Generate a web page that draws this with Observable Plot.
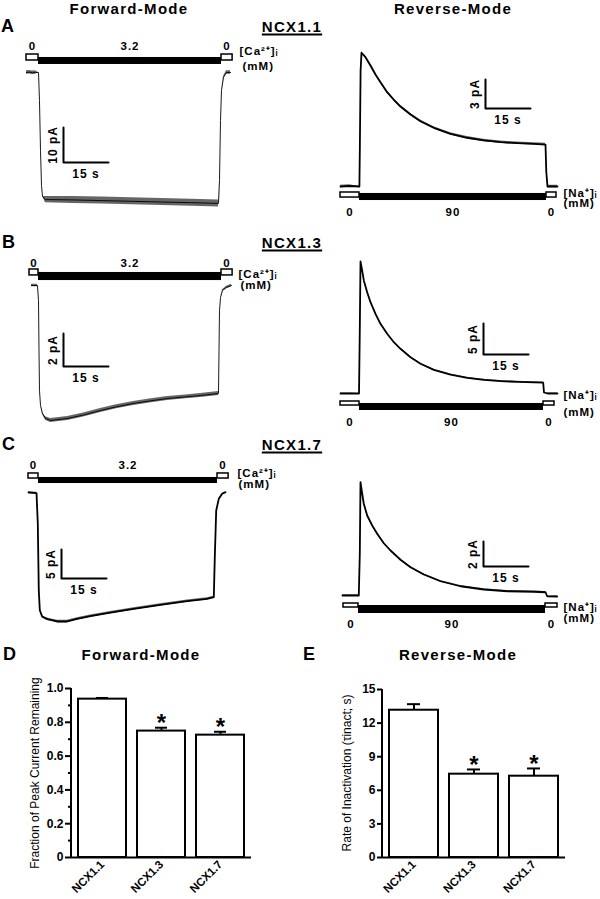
<!DOCTYPE html>
<html><head><meta charset="utf-8">
<script src="https://cdn.jsdelivr.net/npm/d3@7"></script>
<script src="https://cdn.jsdelivr.net/npm/@observablehq/plot@0.6"></script>
<style>
body{margin:0;background:#fff;}
#fig{position:relative;width:600px;height:899px;font-family:"Liberation Sans",Arial,sans-serif;color:#000;overflow:hidden;background:#fff;}
.lbl{position:absolute;line-height:1;font-weight:bold;white-space:nowrap;}
</style></head><body><div id="fig"></div>
<script>
// ---------- DATA ----------
// Forward-mode whole-cell traces: time (s) and current (pA); noise = half-width of recording noise (pA)
const fwdA_t = [0, 1, 2, 3, 4, 4.33, 4.67, 5, 5.33, 6.33, 15, 25, 35, 45, 55, 64, 64.33, 64.67, 65, 65.67, 66.67, 68];
const fwdA_i = [0, 0.1, -0.1, 0, 0, -8, -22.3, -32.3, -35.4, -36.3, -36.4, -36.6, -36.8, -37.0, -37.2, -37.4, -30.9, -13.7, -5.1, -1.4, 0, 0];
const fwdA_noise = [0.5, 0.5, 0.5, 0.5, 0, 0, 0, 0, 0, 0.9, 1, 1, 1, 1, 1, 1, 0, 0, 0, 0.3, 0.5, 0.5];

const fwdB_t = [0.67, 1.5, 2.67, 3.0, 3.17, 3.33, 3.67, 4.33, 5.33, 7, 12.67, 18, 23.67, 29, 34.67, 40, 46, 52, 57, 63, 63.17, 63.33, 63.67, 64.33, 65.67, 67.33];
const fwdB_i = [0, 0, 0, -0.91, -3.94, -6.36, -7.27, -7.76, -8.06, -8.18, -8.06, -7.85, -7.58, -7.35, -7.15, -7.0, -6.85, -6.75, -6.67, -6.55, -3.94, -1.52, -0.73, -0.3, -0.12, 0];
const fwdB_noise = [0.08, 0.08, 0.08, 0, 0, 0, 0, 0.05, 0.1, 0.12, 0.12, 0.12, 0.12, 0.12, 0.12, 0.12, 0.12, 0.12, 0.12, 0.12, 0, 0, 0, 0.05, 0.08, 0.08];

const fwdC_t = [0, 2.67, 3.1, 3.43, 3.77, 4.57, 6.23, 9.57, 12.9, 16.23, 20.67, 27.33, 35.1, 44, 52.9, 59.57, 61.77, 62.1, 62.57, 63.43, 64.57, 65.67];
const fwdC_i = [0, -0.1, -5.34, -16.9, -20.3, -21.4, -21.84, -22.24, -22.24, -21.8, -21.3, -20.7, -20.05, -19.36, -18.74, -18.33, -18.05, -11.16, -3.1, -1.09, -0.22, 0.05];
const fwdC_noise = [0.15, 0.15, 0, 0, 0, 0.1, 0.2, 0.2, 0.2, 0.2, 0.2, 0.2, 0.2, 0.2, 0.2, 0.2, 0.15, 0, 0, 0.05, 0.1, 0.1];

// Reverse-mode traces
const revA_t = [0, 3, 6.3, 6.45, 6.7, 7.0, 8.33, 10, 11.67, 13.33, 15.56, 17.78, 20, 23.33, 26.67, 31.11, 36.67, 42.22, 47.78, 53.33, 58.89, 64.44, 68.33, 68.6, 69, 72.33];
const revA_i = [0, 0.05, 0, 4, 12, 13.83, 13.37, 12.51, 11.58, 10.79, 9.75, 8.97, 8.27, 7.45, 6.75, 6.07, 5.45, 5.04, 4.76, 4.58, 4.48, 4.41, 4.34, 1.5, 0, 0];
const revA_noise = [0.12, 0.12, 0, 0, 0, 0.08, 0.12, 0.12, 0.12, 0.12, 0.12, 0.12, 0.12, 0.12, 0.12, 0.12, 0.12, 0.12, 0.12, 0.12, 0.12, 0.12, 0.12, 0, 0.12, 0.12];

const revB_t = [0, 3, 6.17, 6.43, 6.67, 7.22, 7.78, 8.89, 10, 11.67, 13.33, 15.56, 17.78, 20, 23.33, 26.67, 31.11, 36.67, 42.22, 47.78, 53.33, 58.89, 67.56, 67.83, 69, 72.33];
const revB_i = [0, 0, 0, 10.2, 21.29, 19.84, 18.23, 16.34, 14.73, 12.85, 11.24, 9.63, 8.27, 7.21, 5.85, 4.79, 3.82, 3.06, 2.53, 2.21, 1.98, 1.89, 1.77, 0.16, 0, 0];
const revB_noise = [0.1, 0.1, 0, 0, 0, 0, 0.05, 0.1, 0.1, 0.1, 0.1, 0.1, 0.1, 0.1, 0.1, 0.1, 0.1, 0.1, 0.1, 0.1, 0.1, 0.1, 0.1, 0, 0.1, 0.1];

const revC_t = [0, 5.43, 5.77, 6.0, 6.57, 7.1, 8.23, 9.9, 11.57, 13.77, 16, 19.33, 22.67, 27.1, 32.67, 39.33, 47.1, 54.9, 63.77, 67.67, 68.23, 71.57];
const revC_i = [0, 0, 3.36, 9.06, 8.14, 7.34, 6.4, 5.6, 4.94, 4.18, 3.6, 2.86, 2.26, 1.68, 1.14, 0.74, 0.48, 0.34, 0.3, 0.26, -0.06, -0.08];
const revC_noise = [0.06, 0.06, 0, 0, 0, 0.04, 0.06, 0.06, 0.06, 0.06, 0.06, 0.06, 0.06, 0.06, 0.06, 0.06, 0.06, 0.06, 0.06, 0.06, 0, 0.06];

// Solution-exchange timing (s) and concentrations (mM)
const fwdA_seg = [0, 4, 65, 68.7];
const fwdB_seg = [0, 3, 64, 67.7];
const fwdC_seg = [0, 3.33, 63, 66.7];
const revA_seg = [0, 6.33, 68.67, 72];
const revB_seg = [0, 6.33, 67.67, 71.33];
const revC_seg = [0.33, 5.33, 67.67, 71.67];
const fwdConc = ["0", "3.2", "0"];
const revConc = ["0", "90", "0"];

// Scale bars
const fwdScalePA = [10, 2, 5];
const revScalePA = [3, 5, 2];
const scaleSeconds = 15;

// Summary bar charts
const groups = ["NCX1.1", "NCX1.3", "NCX1.7"];
const fwdFraction = [0.937, 0.748, 0.724];
const fwdFractionErr = [0.007, 0.02, 0.02];
const revTau = [13.15, 7.44, 7.26];
const revTauErr = [0.54, 0.42, 0.69];
const significant = [false, true, true];
const fwdTicks = [0, 0.2, 0.4, 0.6, 0.8, 1.0];
const fwdMinorTicks = [0.1, 0.3, 0.5, 0.7, 0.9];
const revTicks = [0, 3, 6, 9, 12, 15];

// ---------- DRAWING ----------
const fig = document.getElementById("fig");
const FONT = "'Liberation Sans',Arial,sans-serif";

function label(text, x, y, size, opts = {}) {
  const d = document.createElement("div");
  d.className = "lbl";
  d.textContent = text;
  d.style.left = x + "px";
  d.style.top = y + "px";
  d.style.fontSize = size + "px";
  let tr = opts.start ? "translate(0,-50%)" : "translate(-50%,-50%)";
  if (opts.rotate) tr += ` rotate(${opts.rotate}deg)`;
  d.style.transform = tr;
  if (opts.normal) d.style.fontWeight = "normal";
  if (opts.spacing) d.style.letterSpacing = opts.spacing + "px";
  if (opts.underline) {
    d.style.textDecoration = "underline";
    d.style.textDecorationThickness = "1.5px";
    d.style.textUnderlineOffset = "2px";
  }
  fig.appendChild(d);
}

function place(svg, left, top) {
  svg.style.position = "absolute";
  svg.style.left = left + "px";
  svg.style.top = top + "px";
  svg.style.overflow = "visible";
  svg.style.background = "transparent";
  fig.appendChild(svg);
}

function tracePanel(p) {
  const pts = p.t.map((t, k) => ({t, i: p.i[k], w: p.w[k]}));
  const segs = p.conc.map((c, k) => ({x1: p.seg[k], x2: p.seg[k + 1], c}));
  const sbPts = [
    {t: p.sb.t, i: p.sb.i + p.sb.di},
    {t: p.sb.t, i: p.sb.i},
    {t: p.sb.t + scaleSeconds, i: p.sb.i}
  ];
  const svg = Plot.plot({
    width: 300, height: p.height, margin: 0,
    x: {axis: null, domain: [0, 100], range: [p.tx0 - p.left, p.tx0 - p.left + 100 * p.sx]},
    y: {axis: null, domain: [0, 10], range: [p.ky0 - p.top, p.ky0 - p.top - 10 * p.sy]},
    style: `font-family:${FONT};font-weight:bold;letter-spacing:1px;background:transparent;overflow:visible;`,
    marks: [
      Plot.areaY(pts, {x: "t", y1: d => d.i - d.w, y2: d => d.i + d.w, fill: "#000", fillOpacity: 0.6}),
      Plot.line(pts, {x: "t", y: "i", stroke: "#000", strokeWidth: p.lw}),
      Plot.rect(segs.filter(s => s.c === "0"), {x1: "x1", x2: "x2", y1: p.box[0], y2: p.box[1], fill: "white", stroke: "black", strokeWidth: 1.5}),
      Plot.rect(segs.filter(s => s.c !== "0"), {x1: "x1", x2: "x2", y1: p.bar[0], y2: p.bar[1], fill: "black"}),
      Plot.text(segs, {x: s => (s.x1 + s.x2) / 2, y: p.concY, text: "c", fontSize: 11.5}),
      Plot.text([p.ion], {x: p.ionPos[0], y: p.ionPos[1], text: d => d, textAnchor: "start", fontSize: 11.5}),
      Plot.text(["(mM)"], {x: p.unitPos[0], y: p.unitPos[1], text: d => d, textAnchor: "start", fontSize: 11.5}),
      Plot.line(sbPts, {x: "t", y: "i", stroke: "black", strokeWidth: 2}),
      Plot.text([p.sb], {x: "t", y: d => d.i + d.di / 2, text: d => `${d.di} pA`, rotate: -90, dx: -10, fontSize: 12}),
      Plot.text([p.sb], {x: d => d.t + scaleSeconds / 2, y: "i", text: () => `${scaleSeconds} s`, dy: 12, fontSize: 12})
    ]
  });
  place(svg, p.left, p.top);
}

const CA = "[Ca²⁺]ᵢ", NA = "[Na⁺]ᵢ";

tracePanel({left: 0, top: 36, height: 190, tx0: 26, ky0: 72, sx: 3, sy: 3.5, lw: 0.9,
  t: fwdA_t, i: fwdA_i, w: fwdA_noise, seg: fwdA_seg, conc: fwdConc,
  box: [3.43, 5.14], bar: [2.29, 4.29], concY: 7.43, ion: CA, ionPos: [71, 6.0], unitPos: [72, 1.71],
  sb: {t: 12.33, i: -25.7, di: fwdScalePA[0]}});
tracePanel({left: 0, top: 250, height: 185, tx0: 29, ky0: 285, sx: 3, sy: 16.5, lw: 0.9,
  t: fwdB_t, i: fwdB_i, w: fwdB_noise, seg: fwdB_seg, conc: fwdConc,
  box: [0.61, 0.97], bar: [0.30, 0.79], concY: 1.33, ion: CA, ionPos: [69.67, 0.67], unitPos: [70.33, 0.03],
  sb: {t: 11.33, i: -4.91, di: fwdScalePA[1]}});
tracePanel({left: 0, top: 452, height: 180, tx0: 28, ky0: 492, sx: 3, sy: 5.8, lw: 1.8,
  t: fwdC_t, i: fwdC_i, w: fwdC_noise, seg: fwdC_seg, conc: fwdConc,
  box: [2.41, 3.28], bar: [1.55, 2.59], concY: 4.74, ion: CA, ionPos: [69.67, 3.36], unitPos: [70, 1.38],
  sb: {t: 11, i: -14.83, di: fwdScalePA[2]}});

tracePanel({left: 300, top: 36, height: 190, tx0: 340, ky0: 186, sx: 3, sy: 9.67, lw: 1.8,
  t: revA_t, i: revA_i, w: revA_noise, seg: revA_seg, conc: revConc,
  box: [-1.14, -0.62], bar: [-1.45, -0.72], concY: -2.69, ion: NA, ionPos: [74.33, -0.67], unitPos: [74.33, -1.76],
  sb: {t: 48.33, i: 8.07, di: revScalePA[0]}});
tracePanel({left: 300, top: 250, height: 185, tx0: 340, ky0: 393, sx: 3, sy: 6.2, lw: 1.8,
  t: revB_t, i: revB_i, w: revB_noise, seg: revB_seg, conc: revConc,
  box: [-1.94, -1.29], bar: [-2.74, -1.61], concY: -4.68, ion: NA, ionPos: [74.33, -0.32], unitPos: [74.33, -3.0],
  sb: {t: 47.67, i: 6.29, di: revScalePA[1]}});
tracePanel({left: 300, top: 452, height: 180, tx0: 342, ky0: 595, sx: 3, sy: 12.5, lw: 1.8,
  t: revC_t, i: revC_i, w: revC_noise, seg: revC_seg, conc: revConc,
  box: [-0.96, -0.64], bar: [-1.44, -0.8], concY: -2.32, ion: NA, ionPos: [73.67, -0.96], unitPos: [73.67, -1.84],
  sb: {t: 47, i: 2.32, di: revScalePA[2]}});

function barPanel(p) {
  const tops = p.values.map((v, k) => v + p.errs[k]);
  const svg = Plot.plot({
    width: 300, height: 259,
    marginLeft: p.mL, marginRight: p.mR, marginTop: p.mT, marginBottom: 42,
    x: {type: "band", domain: groups, paddingInner: p.pIn, paddingOuter: p.pOut},
    y: {domain: p.yDomain},
    style: `font-family:${FONT};font-weight:bold;background:transparent;overflow:visible;`,
    marks: [
      Plot.barY(p.values, {x: groups, y: p.values, fill: "white", stroke: "black", strokeWidth: 2}),
      Plot.ruleX(p.values, {x: groups, y1: p.values, y2: tops, stroke: "black", strokeWidth: 2}),
      Plot.tickY(p.values, {x: groups, y: tops, stroke: "black", strokeWidth: 2, insetLeft: 18, insetRight: 18}),
      Plot.text(p.values, {x: groups, y: tops, text: () => "*", filter: significant, fontSize: 24, dy: -4}),
      Plot.axisY({ticks: p.ticks, tickFormat: p.fmt, tickSize: p.tickSize, tickPadding: 2, fontSize: 12, strokeWidth: 2, label: null}),
      ...(p.minor ? [Plot.axisY({ticks: p.minor, tickFormat: () => "", tickSize: 3, strokeWidth: 2, label: null})] : []),
      Plot.axisX({tickRotate: -45, tickSize: 0, tickPadding: 5, fontSize: 11.5, label: null}),
      Plot.ruleY([p.yDomain[0]], {stroke: "black", strokeWidth: 2})
    ]
  });
  const xr = svg.scale("x").range, yr = svg.scale("y").range;
  d3.select(svg).append("line")
    .attr("x1", xr[0]).attr("x2", xr[0]).attr("y1", yr[0] + 1).attr("y2", yr[1])
    .attr("stroke", "black").attr("stroke-width", 2);
  place(svg, p.left, p.top);
  label(p.yLabel, p.left + xr[0] + p.labelDx, p.top + (yr[0] + yr[1]) / 2, 12, {rotate: -90, normal: true});
}

barPanel({left: 0, top: 640, mL: 71, mR: 49, mT: 48, pIn: 0.183, pOut: 0.092,
  values: fwdFraction, errs: fwdFractionErr, yDomain: [0, 1], ticks: fwdTicks, minor: fwdMinorTicks,
  fmt: d => d === 0 ? "0" : d.toFixed(1), tickSize: 6, yLabel: "Fraction of Peak Current Remaining", labelDx: -36});
barPanel({left: 300, top: 640, mL: 82, mR: 35, mT: 49, pIn: 0.19, pOut: 0.12,
  values: revTau, errs: revTauErr, yDomain: [0, 15], ticks: revTicks, minor: null,
  fmt: d => String(d), tickSize: 5, yLabel: "Rate of Inactivation (τinact; s)", labelDx: -35});

// ---------- TEXT LABELS ----------
label("Forward-Mode", 129, 8, 15, {spacing: 1.3});
label("Reverse-Mode", 453, 8, 15, {spacing: 1.3});
label("A", 1, 26, 18, {start: true});
label("B", 2, 241.5, 18, {start: true});
label("C", 2, 443.5, 18, {start: true});
label("NCX1.1", 292, 26, 15, {spacing: 1.3, underline: true});
label("NCX1.3", 292, 241.5, 15, {spacing: 1.3, underline: true});
label("NCX1.7", 292, 443.5, 15, {spacing: 1.3, underline: true});
label("D", 3, 654, 18, {start: true});
label("E", 303, 654, 18, {start: true});
label("Forward-Mode", 141, 654, 15, {spacing: 1.3});
label("Reverse-Mode", 458, 654, 15, {spacing: 1.3});
</script></body></html>
